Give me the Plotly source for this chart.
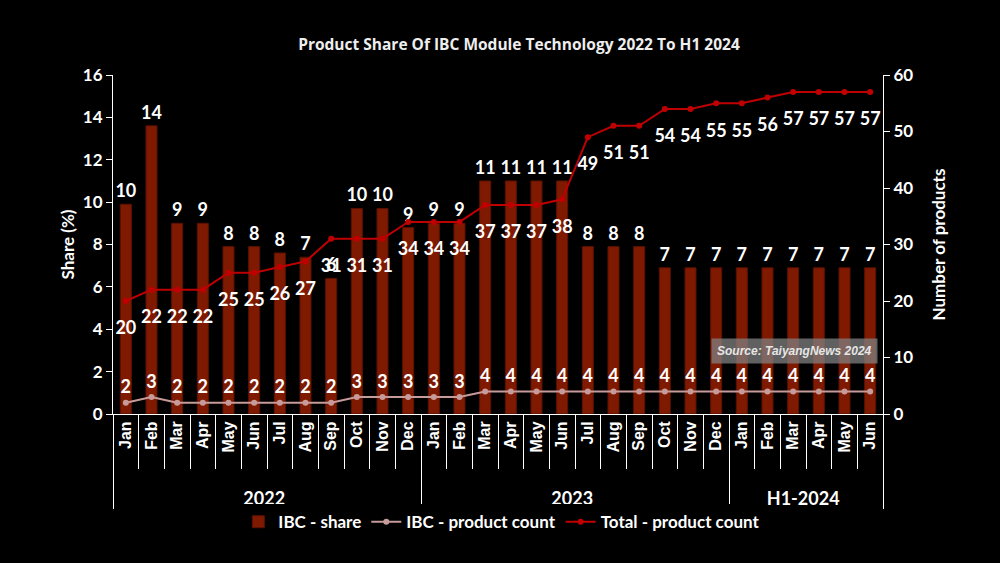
import plotly.graph_objects as go

# categories
years = ['2022'] * 12 + ['2023'] * 12 + ['H1-2024'] * 6
months = ['Jan', 'Feb', 'Mar', 'Apr', 'May', 'Jun', 'Jul', 'Aug', 'Sep', 'Oct', 'Nov', 'Dec',
          'Jan', 'Feb', 'Mar', 'Apr', 'May', 'Jun', 'Jul', 'Aug', 'Sep', 'Oct', 'Nov', 'Dec',
          'Jan', 'Feb', 'Mar', 'Apr', 'May', 'Jun']

# series
ibc_share = [9.9, 13.6, 9.0, 9.0, 7.9, 7.9, 7.6, 7.4, 6.4, 9.7, 9.7, 8.8,
             9.0, 9.0, 11.0, 11.0, 11.0, 11.0, 7.9, 7.9, 7.9, 6.9, 6.9, 6.9,
             6.9, 6.9, 6.9, 6.9, 6.9, 6.9]
ibc_count = [2, 3, 2, 2, 2, 2, 2, 2, 2, 3, 3, 3,
             3, 3, 4, 4, 4, 4, 4, 4, 4, 4, 4, 4,
             4, 4, 4, 4, 4, 4]
total_count = [20, 22, 22, 22, 25, 25, 26, 27, 31, 31, 31, 34,
               34, 34, 37, 37, 37, 38, 49, 51, 51, 54, 54, 55,
               55, 56, 57, 57, 57, 57]

FONT = 'Lato'
LABEL_FONT = dict(color='white', size=18, family=FONT, weight='bold')

# outer level labels: pushed down one line and set a bit larger than the months
year_labels = ['<br><span style="font-family:Lato;font-size:18px">%s</span>' % y for y in years]
x = [year_labels, months]

fig = go.Figure()

fig.add_trace(go.Bar(
    x=x, y=ibc_share, name='IBC - share',
    marker=dict(color='#7F1A00', line=dict(color='#5A1200', width=1)),
    texttemplate='%{y:.0f}', textposition='outside', constraintext='none',
    textfont=LABEL_FONT,
    cliponaxis=False,
))

fig.add_trace(go.Scatter(
    x=x, y=ibc_count, name='IBC - product count', yaxis='y2',
    mode='lines+markers+text',
    line=dict(color='#C89B9B', width=2),
    marker=dict(color='#C89B9B', size=6),
    text=ibc_count, textposition='top center',
    textfont=LABEL_FONT,
    cliponaxis=False,
))

fig.add_trace(go.Scatter(
    x=x, y=total_count, name='Total - product count', yaxis='y2',
    mode='lines+markers',
    line=dict(color='#C00000', width=2),
    marker=dict(color='#C00000', size=6),
    cliponaxis=False,
))

# labels of the total line sit a little further below the points
fig.add_trace(go.Scatter(
    x=x, y=total_count, yaxis='y2', showlegend=False, hoverinfo='skip',
    mode='markers+text',
    marker=dict(color='rgba(0,0,0,0)', size=30),
    text=total_count, textposition='bottom center',
    textfont=LABEL_FONT,
    cliponaxis=False,
))

fig.update_layout(
    width=1000, height=563,
    paper_bgcolor='black', plot_bgcolor='black',
    font=dict(family=FONT, color='white'),
    margin=dict(l=113, r=117, t=75, b=149, autoexpand=False),
    title=dict(text='<b>Product Share Of IBC Module Technology 2022 To H1 2024</b>',
               x=0.519, xanchor='center', y=0.92, yanchor='middle',
               font=dict(size=15.5, family='Open Sans', color='#EEEEEE')),
    bargap=0.57,
    showlegend=True,
    legend=dict(orientation='h', x=0.505, xanchor='center', y=-0.319, yanchor='middle',
                font=dict(size=17, family=FONT, color='white', weight='bold'),
                traceorder='normal', itemwidth=30, tracegroupgap=0),
    xaxis=dict(
        type='multicategory', automargin=False, range=[-0.5, 29.5],
        showline=True, linecolor='white', linewidth=1,
        ticks='outside', ticklen=54, tickcolor='white',
        tickangle=-90,
        tickfont=dict(size=16, family='Liberation Sans', color='white', weight='bold'),
        dividercolor='white', dividerwidth=1,
        showgrid=False,
    ),
    yaxis=dict(
        range=[0, 16], dtick=2, automargin=False,
        showline=True, linecolor='white', linewidth=1,
        ticks='outside', ticklen=6, tickcolor='white',
        tickfont=dict(size=17, family=FONT, weight='bold'),
        title=dict(text='Share (%)', font=dict(size=17, family=FONT, weight='bold'), standoff=3),
        showgrid=False, zeroline=False,
    ),
    yaxis2=dict(
        range=[0, 60], dtick=10, overlaying='y', side='right', automargin=False,
        showline=True, linecolor='white', linewidth=1,
        ticks='outside', ticklen=6, tickcolor='white',
        tickfont=dict(size=17, family=FONT, weight='bold'),
        title=dict(text='Number of products', font=dict(size=17, family=FONT, weight='bold'),
                   standoff=20),
        showgrid=False, zeroline=False,
    ),
    annotations=[dict(
        text='<b><i>Source: TaiyangNews 2024</i></b>',
        xref='paper', yref='paper', x=0.994, y=0.187, xanchor='right', yanchor='middle',
        showarrow=False, bgcolor='rgba(128,128,128,0.75)', borderpad=5,
        font=dict(size=12, family='Liberation Sans', color='#E6E6E6'),
    )],
)

fig.write_html('out.html', config={'displayModeBar': False},
               post_script="document.body.style.margin='0';document.body.style.background='black';")
